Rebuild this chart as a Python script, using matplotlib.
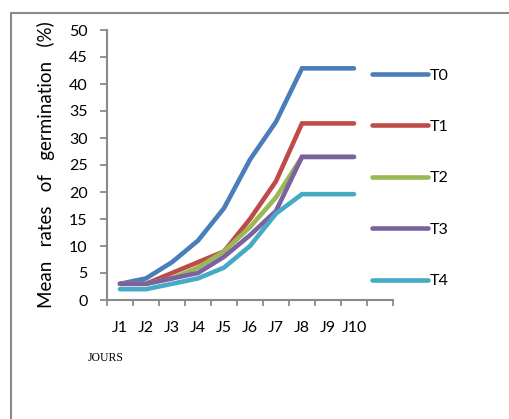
import matplotlib.pyplot as plt
from matplotlib.patches import Rectangle

days = ['J1', 'J2', 'J3', 'J4', 'J5', 'J6', 'J7', 'J8', 'J9', 'J10']
series_names = ['T0', 'T1', 'T2', 'T3', 'T4']
t0 = [3, 4, 7, 11, 17, 26, 33, 42.9, 42.9, 42.9]
t1 = [3, 3, 5, 7, 9, 15, 22, 32.7, 32.7, 32.7]
t2 = [3, 3, 4, 6, 9, 13.5, 19, 26.5, 26.5, 26.5]
t3 = [3, 3, 4, 5, 8, 12, 16.5, 26.5, 26.5, 26.5]
t4 = [2, 2, 3, 4, 6, 10, 16, 19.6, 19.6, 19.6]
colors = ['#4A7EBB', '#BE4B48', '#98B954', '#7D60A0', '#46AAC5']

plt.rcParams['font.family'] = ['Lato', 'DejaVu Sans']
fs = 11.5

fig = plt.figure(figsize=(5.1, 4.19), dpi=100)
# outer chart frame (cut by the image edges)
fig.patches.append(Rectangle((11 / 510, -0.05), 1.1, 1 - 13 / 419 + 0.05,
                             transform=fig.transFigure, fill=False,
                             edgecolor='#8a8a8a', lw=1.5))

ax = fig.add_axes([107 / 510, 1 - 300 / 419, 286 / 510, 270 / 419])
xs = [i + 0.5 for i in range(len(days))]
for name, vals, c in zip(series_names, [t0, t1, t2, t3, t4], colors):
    ax.plot(xs, vals, color=c, lw=3.3, solid_capstyle='round',
            solid_joinstyle='miter', label=name, clip_on=False)

ax.set_xlim(0, 11)
ax.set_ylim(0, 50)
ax.set_yticks(range(0, 51, 5))
ax.set_xticks(range(0, 12))
ax.set_xticklabels([])
ax.set_xticks(xs, minor=True)
ax.set_xticklabels(days, minor=True)
ax.tick_params(axis='x', which='minor', length=0, pad=15, labelsize=fs)
ax.tick_params(axis='x', which='major', length=4, width=1.3, color='#8a8a8a')
ax.tick_params(axis='y', length=5, width=1.3, color='#8a8a8a', pad=9,
               labelsize=fs)
for s in ['top', 'right']:
    ax.spines[s].set_visible(False)
for s in ['left', 'bottom']:
    ax.spines[s].set_color('#8a8a8a')
    ax.spines[s].set_linewidth(1.5)

ax.set_ylabel('Mean   rates   of   germination   (%)', fontsize=13.5)
ax.yaxis.set_label_coords(-0.182, 0.5)

leg = ax.legend(loc='upper left', bbox_to_anchor=(0.927, 0.858), frameon=False,
                fontsize=fs, handlelength=3.5, handletextpad=0.1,
                labelspacing=2.33, borderaxespad=0, borderpad=0)
for h in leg.get_lines():
    h.set_linewidth(3.3)
    h.set_solid_capstyle('round')

fig.text(88 / 510, 1 - 358 / 419, 'JOURS', fontsize=8.5,
         family='Liberation Serif', va='center', ha='left')

fig.savefig('out.png', dpi=100)
